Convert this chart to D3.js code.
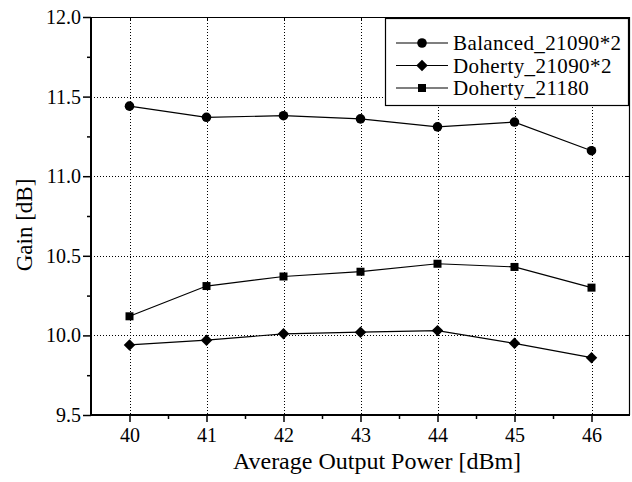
<!DOCTYPE html>
<html>
<head>
<meta charset="utf-8">
<script src="https://cdn.jsdelivr.net/npm/d3@7"></script>
<style>
  body { margin: 0; background: #fff; }
</style>
</head>
<body>
<div id="chart"></div>
<script>
// data
var power = [40, 41, 42, 43, 44, 45, 46];
var balanced = [11.44, 11.37, 11.38, 11.36, 11.31, 11.34, 11.16];
var doherty2 = [9.94, 9.97, 10.01, 10.02, 10.03, 9.95, 9.86];
var doherty1 = [10.12, 10.31, 10.37, 10.40, 10.45, 10.43, 10.30];
var seriesNames = ["Balanced_21090*2", "Doherty_21090*2", "Doherty_21180"];
var yTicks = [9.5, 10.0, 10.5, 11.0, 11.5, 12.0];

var width = 632, height = 482;
var margin = {left: 91, right: 2, top: 17, bottom: 67};
var serif = "'Liberation Serif', 'Times New Roman', Times, 'DejaVu Serif', serif";

var svg = d3.select("#chart").append("svg")
    .attr("width", width)
    .attr("height", height)
    .attr("font-family", serif);

var x = d3.scaleLinear().domain([39.5, 46.5]).range([margin.left, width - margin.right]);
var y = d3.scaleLinear().domain([9.5, 12.0]).range([height - margin.bottom, margin.top]);

var x0 = x.range()[0], x1 = x.range()[1], y0 = y.range()[0], y1 = y.range()[1];

// grid
var grid = svg.append("g")
    .attr("stroke", "#000")
    .attr("stroke-width", 1)
    .attr("stroke-dasharray", "1,2");
grid.selectAll("line.gx")
    .data(power)
    .join("line")
    .attr("x1", d => Math.round(x(d)) + 0.5)
    .attr("x2", d => Math.round(x(d)) + 0.5)
    .attr("y1", y1)
    .attr("y2", y0);
grid.selectAll("line.gy")
    .data(yTicks.slice(1, -1))
    .join("line")
    .attr("class", "gy")
    .attr("y1", d => Math.round(y(d)) + 0.5)
    .attr("y2", d => Math.round(y(d)) + 0.5)
    .attr("x1", x0)
    .attr("x2", x1);

// frame (top / right thin with inner ticks)
svg.append("line").attr("x1", x0).attr("x2", x1).attr("y1", y1 + 0.5).attr("y2", y1 + 0.5)
    .attr("stroke", "#000").attr("stroke-width", 1.2);
svg.append("line").attr("x1", x1 - 0.5).attr("x2", x1 - 0.5).attr("y1", y1).attr("y2", y0)
    .attr("stroke", "#000").attr("stroke-width", 1.2);
svg.append("g").selectAll("line")
    .data(power)
    .join("line")
    .attr("x1", d => Math.round(x(d)) + 0.5)
    .attr("x2", d => Math.round(x(d)) + 0.5)
    .attr("y1", y1)
    .attr("y2", y1 + 4)
    .attr("stroke", "#000");
svg.append("g").selectAll("line")
    .data(yTicks.slice(1, -1))
    .join("line")
    .attr("y1", d => Math.round(y(d)) + 0.5)
    .attr("y2", d => Math.round(y(d)) + 0.5)
    .attr("x1", x1)
    .attr("x2", x1 - 4)
    .attr("stroke", "#000");

// bottom axis
var xMinor = d3.range(39.5, 46.51, 1);
var xAxis = svg.append("g")
    .attr("transform", `translate(0,${y0})`)
    .call(d3.axisBottom(x).tickValues(power).tickFormat(d3.format("d")).tickSize(7).tickPadding(6));
svg.append("g")
    .attr("transform", `translate(0,${y0})`)
    .call(d3.axisBottom(x).tickValues(xMinor.slice(1, -1)).tickFormat("").tickSize(4))
    .select(".domain").remove();

// left axis
var yMinor = d3.range(9.75, 12.0, 0.5);
var yAxis = svg.append("g")
    .attr("transform", `translate(${x0},0)`)
    .call(d3.axisLeft(y).tickValues(yTicks).tickFormat(d3.format(".1f")).tickSize(8).tickPadding(2));
svg.append("g")
    .attr("transform", `translate(${x0},0)`)
    .call(d3.axisLeft(y).tickValues(yMinor).tickFormat("").tickSize(4))
    .select(".domain").remove();

svg.selectAll(".domain").attr("stroke-width", 2);
xAxis.select(".domain").attr("d", `M${x0},0H${x1}`);
yAxis.select(".domain").attr("d", `M0,${y0}V${y1}`);
svg.selectAll(".tick line").attr("stroke-width", 1.5);
svg.selectAll("g").filter(function() { return this.hasAttribute("font-family"); })
    .attr("font-family", serif).attr("font-size", 20);

// axis titles
svg.append("text")
    .attr("x", 377)
    .attr("y", 469)
    .attr("text-anchor", "middle")
    .attr("font-size", 24)
    .text("Average Output Power [dBm]");
svg.append("text")
    .attr("transform", `translate(32,225) rotate(-90)`)
    .attr("text-anchor", "middle")
    .attr("font-size", 23)
    .text("Gain [dB]");

// series
var line = d3.line().x((d, i) => x(power[i])).y(d => y(d));
var allSeries = [balanced, doherty2, doherty1];
var symbols = [d3.symbolCircle, d3.symbolDiamond2, d3.symbolSquare];
var symSizes = [72, 84, 64];

allSeries.forEach(function(vals, k) {
    svg.append("path")
        .datum(vals)
        .attr("fill", "none")
        .attr("stroke", "#000")
        .attr("stroke-width", 1.2)
        .attr("d", line);
    svg.append("g").selectAll("path")
        .data(vals)
        .join("path")
        .attr("transform", (d, i) => `translate(${x(power[i])},${y(d)})`)
        .attr("d", d3.symbol(symbols[k], symSizes[k]))
        .attr("fill", "#000");
});

// legend
var lg = svg.append("g");
lg.append("rect")
    .attr("x", 385.5).attr("y", 18.5)
    .attr("width", 243).attr("height", 87)
    .attr("fill", "#fff").attr("stroke", "#000").attr("stroke-width", 1.2);
seriesNames.forEach(function(name, k) {
    var cy = 43 + k * 22.5;
    lg.append("line").attr("x1", 396).attr("x2", 448).attr("y1", cy).attr("y2", cy)
        .attr("stroke", "#000").attr("stroke-width", 1.2);
    lg.append("path")
        .attr("transform", `translate(422,${cy})`)
        .attr("d", d3.symbol(symbols[k], symSizes[k]))
        .attr("fill", "#000");
    lg.append("text")
        .attr("x", 453).attr("y", cy + 7)
        .attr("font-size", 21)
        .attr("letter-spacing", 0.4)
        .text(name);
});
</script>
</body>
</html>
